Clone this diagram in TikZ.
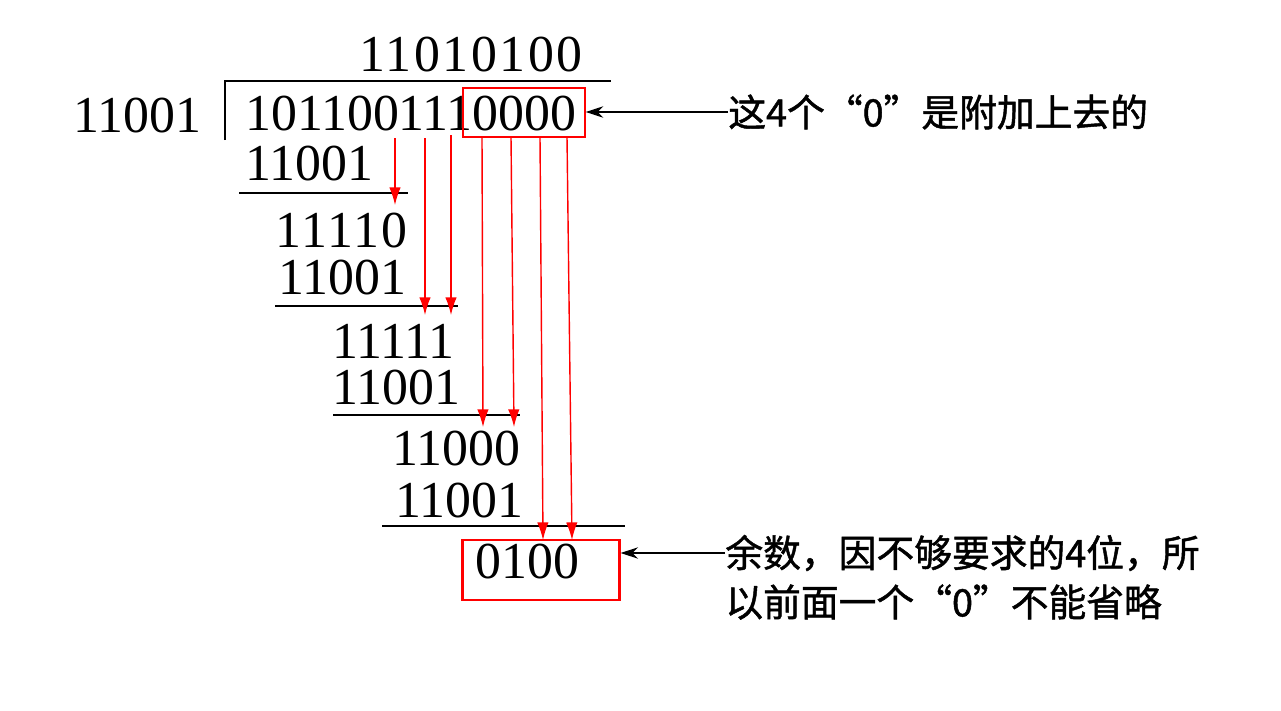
\documentclass[tikz,border=0pt]{standalone}
\usepackage{fontspec}
\setmainfont{Liberation Serif}
\newfontfamily\cjk{Noto Sans CJK SC}[FakeBold=1.2]
\usetikzlibrary{arrows.meta}
\begin{document}
\begin{tikzpicture}[x=0.02cm,y=-0.02cm,
    num/.style={inner sep=0pt,anchor=base west,text height=0.66em,text depth=0pt,font=\fontsize{29.5}{35}\selectfont},
    note/.style={inner sep=0pt,anchor=west,font=\cjk\fontsize{21.5}{28}\selectfont},
    rule/.style={line width=1.1pt},
    redarr/.style={red,line width=0.8pt,-{Latex[length=10pt,width=6.5pt]}},
    blkarr/.style={line width=0.8pt,-{Stealth[length=10pt,width=6.5pt]}}]
    \useasboundingbox (0,0) rectangle (1281,710);

    % Cociente y signo de division
    \node[num] (quot) at (359,71) {\addfontfeature{LetterSpace=5}11010100};
    \draw[rule] (225,140) -- (225,81) -- (611,81);
    \node[num] (divisor) at (73,132) {11001};
    \node[num] (dividend) at (245,130) {1011001110000};
    \node[draw=red,line width=0.8pt,minimum width=2.44cm,minimum height=0.98cm] (added) at (524,112.5) {};

    % Restas sucesivas
    \node[num] (sub1) at (245,180) {11001};
    \draw[rule] (239,193) -- (408,193);
    \node[num] (res1) at (275,247) {\addfontfeature{LetterSpace=4}11110};
    \node[num] (sub2) at (278,294) {11001};
    \draw[rule] (275,306) -- (458,306);
    \node[num] (res2) at (332,358) {11111};
    \node[num] (sub3) at (332,404) {11001};
    \draw[rule] (333,415) -- (520,415);
    \node[num] (res3) at (392,465) {11000};
    \node[num] (sub4) at (395,517) {11001};
    \draw[rule] (382,526) -- (625,526);

    % Resto
    \node[draw=red,line width=1.2pt,minimum width=3.14cm,minimum height=1.2cm] (rem) at (541,570) {};
    \node[num] (remval) at (475,578) {0100};

    % Flechas rojas (bajar cifras)
    \foreach \n/\xa/\ya/\xb/\yb in {1/395/138/395/205, 2/425/138/425/315, 3/451/135/451/315,
        4/482/137/483/427, 5/511/137/514/427, 6/540/137/543/540, 7/567/137/572/540} {
      \coordinate (top\n) at (\xa,\ya);
      \coordinate (tip\n) at (\xb,\yb);
      \draw[redarr] (top\n) -- (tip\n);
    }

    % Notas
    \node[note] (note1) at (728,112) {这4个“0”是附加上去的};
    \draw[blkarr] (note1.west) -- (note1.west -| added.east);
    \node[note] (note2) at (725,553) {余数，因不够要求的4位，所};
    \node[note] (note3) at (725,602) {以前面一个“0”不能省略};
    \draw[blkarr] (note2.west) -- (note2.west -| rem.east);

\end{tikzpicture}
\end{document}
